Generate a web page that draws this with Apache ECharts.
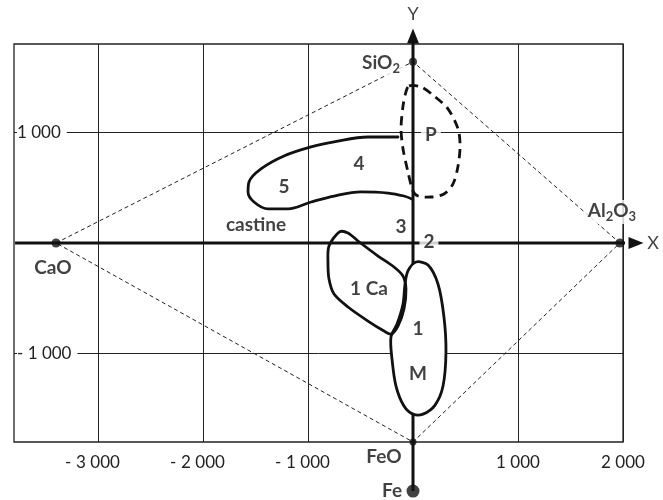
<!DOCTYPE html>
<html><head><meta charset="utf-8">
<script src="https://cdn.jsdelivr.net/npm/echarts@6/dist/echarts.min.js"></script>
<style>html,body{margin:0;padding:0;background:#fff}#c{width:663px;height:500px}</style>
</head><body><div id="c"></div>
<script>
// ---- axis ticks ----
const xTickValues = [-3000, -2000, -1000, 1000, 2000];
const xTickLabels = ['- 3 000', '- 2 000', '- 1 000', '1 000', '2 000'];
const yTickValues = [-1000, 1000];
const yTickLabels = ['- 1 000', '1 000'];

// ---- oxide poles ----
const oxideNames = ['SiO2', 'CaO', 'Al2O3', 'FeO', 'Fe'];
const oxideX = [0, -3400, 1970, 0, 0];
const oxideY = [1640, 0, 0, -1800, -2244];
const oxideSize = [8, 9, 9, 7, 13];
const diamondOrder = [1, 0, 2, 3, 1];

// ---- main axes (X, Y) : start and arrow end ----
const xAxisLine = [[-3790, 0], [2124, 0]];
const yAxisLine = [[0, -2244], [0, 1873]];

// ---- fields ----
const regionP = [[-38,1421],[76,1412],[200,1330],[333,1213],[429,1032],[448,878],[429,697],[381,534],[295,443],[171,416],[48,425],[0,471],[-48,643],[-95,851],[-114,1032],[-95,1240],[-67,1367]];
const region45 = [[-143,959],[-429,959],[-752,914],[-971,869],[-1229,787],[-1448,670],[-1562,552],[-1571,462],[-1514,371],[-1381,308],[-1190,308],[-971,371],[-752,425],[-495,462],[-238,452],[-86,425],[-10,398]];
const region1Ca = [[-210,-824],[-143,-751],[-86,-597],[-67,-416],[-95,-299],[-181,-217],[-333,-118],[-524,18],[-619,90],[-700,100],[-800,-27],[-810,-172],[-800,-326],[-752,-462],[-619,-579],[-429,-706],[-276,-796]];
const region1M = [[29,-172],[143,-199],[238,-371],[295,-670],[314,-986],[286,-1294],[210,-1466],[95,-1548],[0,-1548],[-86,-1475],[-162,-1294],[-200,-1050],[-210,-851],[-152,-733],[-95,-552],[-76,-371],[-48,-253]];

// ---- text annotations ----
const labelTexts = ['Y', 'X', 'SiO2', 'Al2O3', 'CaO', 'FeO', 'Fe', 'castine', 'P', '4', '5', '3', '2', '1 Ca', '1', 'M'];
const labelX = [0, 2286, -305, 1895, -3429, -276, -200, -1495, 171, -514, -1229, -114, 152, -419, 48, 48];
const labelY = [2072, 0, 1620, 280, -226, -1937, -2244, 163, 977, 715, 507, 145, 9, -416, -778, -1185];
const labelBoxed = ['SiO2', 'Al2O3', 'P', '2'];
const labelPlain = ['Y', 'X'];

const FONT = 'Lato';
function fmtChem(t) { return t.replace(/([A-Za-z ]+)(\d)/g, '{n|$1}{s|$2}'); }
function fmtTick(t) {
  if (!t) return '';
  if (t.indexOf('- ') === 0) return '{m|- }{v|' + t.slice(2) + '}{p|}';
  return '{v|' + t + '}';
}
const tickRich = {
  m: { fontFamily: FONT, fontSize: 17, color: '#222', width: 11, align: 'left' },
  v: { fontFamily: FONT, fontSize: 17, color: '#222' },
  p: { width: 11 }
};

function closedShape(pts, dashed, fill, z) {
  return {
    type: 'custom', coordinateSystem: 'cartesian2d', silent: true, z: z, clip: false,
    data: [[pts[0][0], pts[0][1]]],
    renderItem: function (params, api) {
      return {
        type: 'polygon',
        shape: { points: pts.map(p => api.coord(p)), smooth: 0.3 },
        style: { fill: fill, stroke: '#111', lineWidth: 2.8, lineDash: dashed ? [9, 6] : null, lineJoin: 'round' }
      };
    }
  };
}
function openShape(pts, z) {
  return {
    type: 'line', data: pts, smooth: 0.35, symbol: 'none', clip: false, silent: true, z: z,
    lineStyle: { color: '#111', width: 2.8, cap: 'round', join: 'round' }
  };
}
function arrowAxis(pts, rot) {
  return {
    type: 'line', clip: false, silent: true, z: 5, showAllSymbol: true,
    data: [
      { value: pts[0], symbol: 'none' },
      { value: pts[1], symbol: 'triangle', symbolSize: [12, 15], symbolRotate: rot }
    ],
    itemStyle: { color: '#111' },
    lineStyle: { color: '#111', width: 3 }
  };
}

const chart = echarts.init(document.getElementById('c'));
chart.setOption({
  backgroundColor: '#fff',
  animation: false,
  grid: { left: 14, right: 40, top: 44, bottom: 58, show: true, borderColor: '#222', borderWidth: 1.3 },
  xAxis: {
    type: 'value', min: -3800, max: 2000,
    axisLine: { show: false },
    axisTick: { show: false, customValues: xTickValues },
    splitLine: { show: true, lineStyle: { color: '#222', width: 1 } },
    axisLabel: {
      customValues: xTickValues, margin: 12, fontFamily: FONT, fontSize: 17, color: '#222',
      formatter: v => fmtTick(xTickLabels[xTickValues.indexOf(v)]),
      rich: tickRich
    }
  },
  yAxis: {
    type: 'value', min: -1800, max: 1800,
    axisLine: { show: false },
    axisTick: { show: false, customValues: yTickValues },
    splitLine: { show: true, lineStyle: { color: '#222', width: 1 } },
    axisLabel: {
      customValues: yTickValues, inside: true, margin: 3, fontFamily: FONT, fontSize: 17, color: '#222',
      backgroundColor: '#fff', padding: [3, 6, 3, 0],
      formatter: v => yTickLabels[yTickValues.indexOf(v)] || ''
    }
  },
  series: [
    {
      type: 'line', silent: true, symbol: 'none', clip: false, z: 3,
      data: diamondOrder.map(i => [oxideX[i], oxideY[i]]),
      lineStyle: { color: '#222', width: 1, type: [4, 3] }
    },
    arrowAxis(xAxisLine, -90),
    arrowAxis(yAxisLine, 0),
    closedShape(regionP, true, 'none', 6),
    openShape(region45, 6),
    closedShape(region1M, false, '#fff', 7),
    closedShape(region1Ca, false, 'none', 8),
    {
      type: 'scatter', silent: true, clip: false, z: 9,
      data: oxideNames.map((n, i) => ({ name: n, value: [oxideX[i], oxideY[i]], symbolSize: oxideSize[i] })),
      itemStyle: { color: '#111' }
    },
    {
      type: 'scatter', silent: true, clip: false, z: 10, symbolSize: 1,
      itemStyle: { color: 'rgba(0,0,0,0)' },
      data: labelTexts.map((t, i) => {
        const boxed = labelBoxed.indexOf(t) >= 0;
        const plain = labelPlain.indexOf(t) >= 0;
        return {
          name: t, value: [labelX[i], labelY[i]],
          label: {
            show: true, position: 'inside', formatter: fmtChem(t),
            fontFamily: FONT, fontSize: plain ? 18 : 19, fontWeight: plain ? 'normal' : 'bold', color: '#111',
            backgroundColor: boxed ? '#fff' : 'transparent', padding: boxed ? [1, 4] : 0,
            rich: {
              n: { fontFamily: FONT, fontSize: 19, fontWeight: 'bold', color: '#111', lineHeight: 22, verticalAlign: 'top' },
              s: { fontFamily: FONT, fontSize: 13, fontWeight: 'bold', color: '#111', lineHeight: 13, padding: [10, 0, 0, 0], verticalAlign: 'bottom' }
            }
          }
        };
      })
    }
  ]
});
</script></body></html>
